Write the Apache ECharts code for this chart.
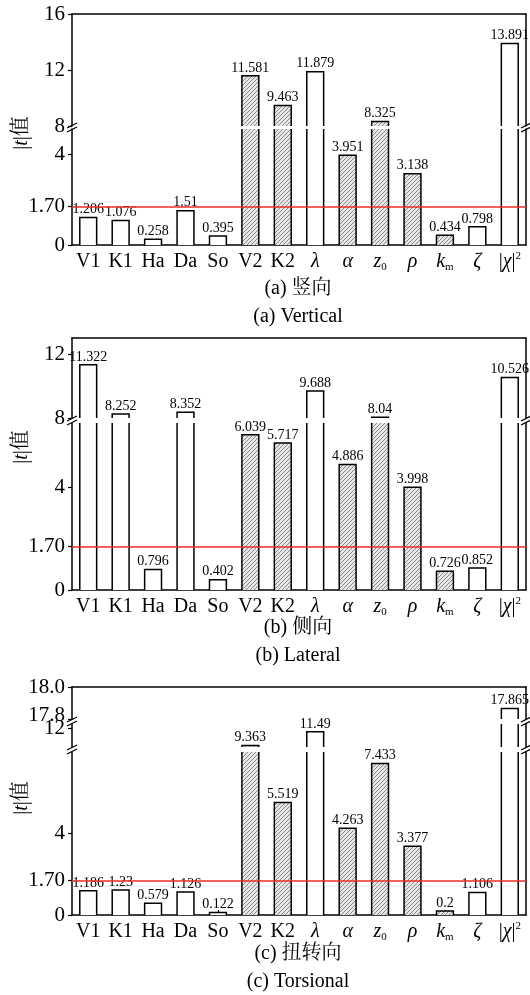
<!DOCTYPE html>
<html><head><meta charset="utf-8">
<script src="https://cdn.jsdelivr.net/npm/echarts@6/dist/echarts.min.js"></script>
<style>html,body{margin:0;padding:0;background:#fff}#c{width:530px;height:995px}</style>
</head><body><div id="c"></div>
<script>
// ---------- data ----------
var categories = ['V1','K1','Ha','Da','So','V2','K2','λ','α','z0','ρ','km','ζ','|χ|2'];
var hatched = [false,false,false,false,false,true,true,false,true,true,true,true,false,false];
var verticalValues  = [1.206,1.076,0.258,1.51,0.395,11.581,9.463,11.879,3.951,8.325,3.138,0.434,0.798,13.891];
var lateralValues   = [11.322,8.252,0.796,8.352,0.402,6.039,5.717,9.688,4.886,8.04,3.998,0.726,0.852,10.526];
var torsionalValues = [1.186,1.23,0.579,1.126,0.122,9.363,5.519,11.49,4.263,7.433,3.377,0.2,1.106,17.865];
var threshold = 1.70;
var verticalTicks = [0,1.7,4,8,12,16];
var verticalTickLabels = ['0','1.70','4','8','12','16'];
var lateralTicks = [0,1.7,4,8,12];
var lateralTickLabels = ['0','1.70','4','8','12'];
var torsionalTicks = [0,1.7,4,12,17.8,18.0];
var torsionalTickLabels = ['0','1.70','4','12','17.8','18.0'];
var titlesCN = ['(a) 竖向','(b) 侧向','(c) 扭转向'];
var titlesEN = ['(a) Vertical','(b) Lateral','(c) Torsional'];

// ---------- layout ----------
var FONT = '"Liberation Serif","Times New Roman",serif';
var CJK = '"Liberation Serif","Noto Serif CJK SC","Noto Sans CJK SC",serif';
var GL = 72, GR = 4, GW = 530 - GL - GR;
var panels = [
  {values: verticalValues, ticks: verticalTicks, tickLabels: verticalTickLabels,
   segs: [{min:0,max:5.1,top:129,bottom:245},{min:8,max:16,top:14,bottom:126}],
   nameY:133, t1:289, t2:317},
  {values: lateralValues, ticks: lateralTicks, tickLabels: lateralTickLabels,
   segs: [{min:0,max:6.5,top:423,bottom:590},{min:8,max:13,top:338,bottom:418}],
   nameY:447, t1:628, t2:656},
  {values: torsionalValues, ticks: torsionalTicks, tickLabels: torsionalTickLabels,
   segs: [{min:0,max:8,top:752,bottom:915},{min:9.15,max:12.7,top:724,bottom:747},{min:17.8,max:18.0,top:687,bottom:719}],
   nameY:798, t1:954, t2:982}
];
// small label nudges at crowded break ticks
var tickLabelStyle = {'17.8':'up', '12':''};

// hatch pattern
var pc = document.createElement('canvas'); pc.width = 4; pc.height = 4;
var g2 = pc.getContext('2d');
g2.fillStyle = '#e6e6e6'; g2.fillRect(0,0,4,4);
g2.strokeStyle = '#8a8a8a'; g2.lineWidth = 1;
g2.beginPath(); g2.moveTo(0,4); g2.lineTo(4,0); g2.moveTo(-1,1); g2.lineTo(1,-1); g2.moveTo(3,5); g2.lineTo(5,3); g2.stroke();
var pattern = {image: pc, repeat: 'repeat'};

var richLabel = {'λ':'{i|λ}','α':'{i|α}','z0':'{i|z}{sub|0}','ρ':'{i|ρ}','km':'{i|k}{sub|m}','ζ':'{i|ζ}','|χ|2':'|{i|χ}|{sup|2}'};

function makeRenderItem(values, seg) {
  return function (params, api) {
    var i = api.value(0), v = values[i];
    if (!(v > seg.min)) return null;
    var clipped = v > seg.max;
    var pTop = api.coord([i, clipped ? seg.max : v]);
    var pBot = api.coord([i, seg.min]);
    var w = api.size([1, 0])[0] * 0.52;
    var cx = pTop[0], x0 = cx - w / 2, x1 = cx + w / 2, yt = pTop[1], yb = pBot[1];
    var ls = {stroke:'#000', lineWidth:1.5, fill:'none'};
    var ch = [{type:'rect', shape:{x:x0, y:yt, width:w, height:yb - yt}, style:{fill: hatched[i] ? pattern : '#fff'}}];
    if (clipped) {
      ch.push({type:'line', shape:{x1:x0, y1:yb, x2:x0, y2:yt}, style:ls});
      ch.push({type:'line', shape:{x1:x1, y1:yb, x2:x1, y2:yt}, style:ls});
    } else {
      ch.push({type:'polyline', shape:{points:[[x0,yb],[x0,yt],[x1,yt],[x1,yb]]}, style:ls});
      ch.push({type:'text', x:cx, y:yt - 1, style:{text:String(v), align:'center', verticalAlign:'bottom', font:'14px ' + FONT, fill:'#000'}});
    }
    return {type:'group', children: ch};
  };
}

var grids = [], xAxes = [], yAxes = [], series = [], graphics = [];
var axisLs = {color:'#000', width:1.5};
panels.forEach(function (p, pi) {
  var n = p.segs.length;
  p.segs.forEach(function (seg, si) {
    var gi = grids.length;
    var isBottom = si === 0, isTop = si === n - 1;
    grids.push({left:GL, width:GW, top:seg.top, height:seg.bottom - seg.top});
    xAxes.push({type:'category', gridIndex:gi, data:categories, position: isBottom ? 'bottom' : 'top',
      show: isBottom || isTop,
      axisLine:{show:true, lineStyle:axisLs},
      axisTick:{show:isBottom, inside:true, alignWithLabel:true, length:5, lineStyle:{color:'#000', width:1.2}},
      axisLabel:{show:isBottom, interval:0, margin:6, color:'#000', fontFamily:FONT, fontSize:20, lineHeight:22,
        formatter:function (c) { return richLabel[c] || c; },
        rich:{i:{fontStyle:'italic', fontFamily:FONT, fontSize:20, lineHeight:22, color:'#000'},
              sub:{fontFamily:FONT, fontSize:11, verticalAlign:'bottom', lineHeight:12, color:'#000'},
              sup:{fontFamily:FONT, fontSize:11, verticalAlign:'top', lineHeight:12, color:'#000'}}},
      splitLine:{show:false}});
    var tv = [], tl = {};
    p.ticks.forEach(function (t, k) { if (t >= seg.min - 1e-9 && t <= seg.max + 1e-9) { tv.push(t); tl[t] = p.tickLabels[k]; } });
    var yi = yAxes.length;
    yAxes.push({type:'value', gridIndex:gi, min:seg.min, max:seg.max, position:'left',
      axisLine:{show:true, lineStyle:axisLs},
      axisTick:{show:true, length:4, customValues:tv, lineStyle:{color:'#000', width:1.2}},
      axisLabel:{customValues:tv, margin:7, color:'#000', fontFamily:FONT, fontSize:21,
        formatter:function (v) {
          for (var k in tl) { if (Math.abs(+k - v) < 1e-6) {
            var s = tl[k]; return tickLabelStyle[s] ? '{' + tickLabelStyle[s] + '|' + s + '}' : s; } }
          return ''; },
        rich:{up:{fontFamily:FONT, fontSize:21, color:'#000', padding:[0,0,8,0]}}},
      splitLine:{show:false}});
    yAxes.push({type:'value', gridIndex:gi, min:seg.min, max:seg.max, position:'right',
      axisLine:{show:true, lineStyle:axisLs}, axisTick:{show:false}, axisLabel:{show:false}, splitLine:{show:false}});
    var s = {type:'custom', xAxisIndex:gi, yAxisIndex:yi,
      data: p.values.map(function (v, i) { return [i, v]; }),
      encode:{x:0, y:1}, renderItem: makeRenderItem(p.values, seg), silent:true};
    if (isBottom) {
      s.markLine = {silent:true, symbol:'none', label:{show:false}, animation:false,
        lineStyle:{color:'#ee2b24', width:1.6, type:'solid'}, data:[{yAxis: threshold}], z:10};
    }
    series.push(s);
    if (si > 0) {
      var prev = p.segs[si - 1];
      var ym = (prev.top + seg.bottom) / 2;
      [GL, GL + GW].forEach(function (x) {
        [-2, 2].forEach(function (d) {
          graphics.push({type:'line', shape:{x1:x - 5, y1:ym + d + 2.5, x2:x + 5, y2:ym + d - 2.5},
            style:{stroke:'#000', lineWidth:1.2}, z:100});
        });
      });
    }
  });
  graphics.push({type:'text', x:22, y:p.nameY, rotation:Math.PI / 2,
    style:{text:'|{i|t}|值', align:'center', verticalAlign:'middle', font:'20px ' + CJK, fill:'#000',
      rich:{i:{fontStyle:'italic', fontFamily:FONT, fontSize:20}}}});
  graphics.push({type:'text', x:298, y:p.t1, style:{text:titlesCN[pi], align:'center', verticalAlign:'middle', font:'20px ' + CJK, fill:'#000'}});
  graphics.push({type:'text', x:298, y:p.t2, style:{text:titlesEN[pi], align:'center', verticalAlign:'middle', font:'20px ' + FONT, fill:'#000'}});
});

var chart = echarts.init(document.getElementById('c'), null, {renderer:'canvas'});
chart.setOption({
  animation:false,
  backgroundColor:'#fff',
  textStyle:{fontFamily:FONT},
  grid:grids, xAxis:xAxes, yAxis:yAxes, series:series, graphic:graphics
});
</script></body></html>
